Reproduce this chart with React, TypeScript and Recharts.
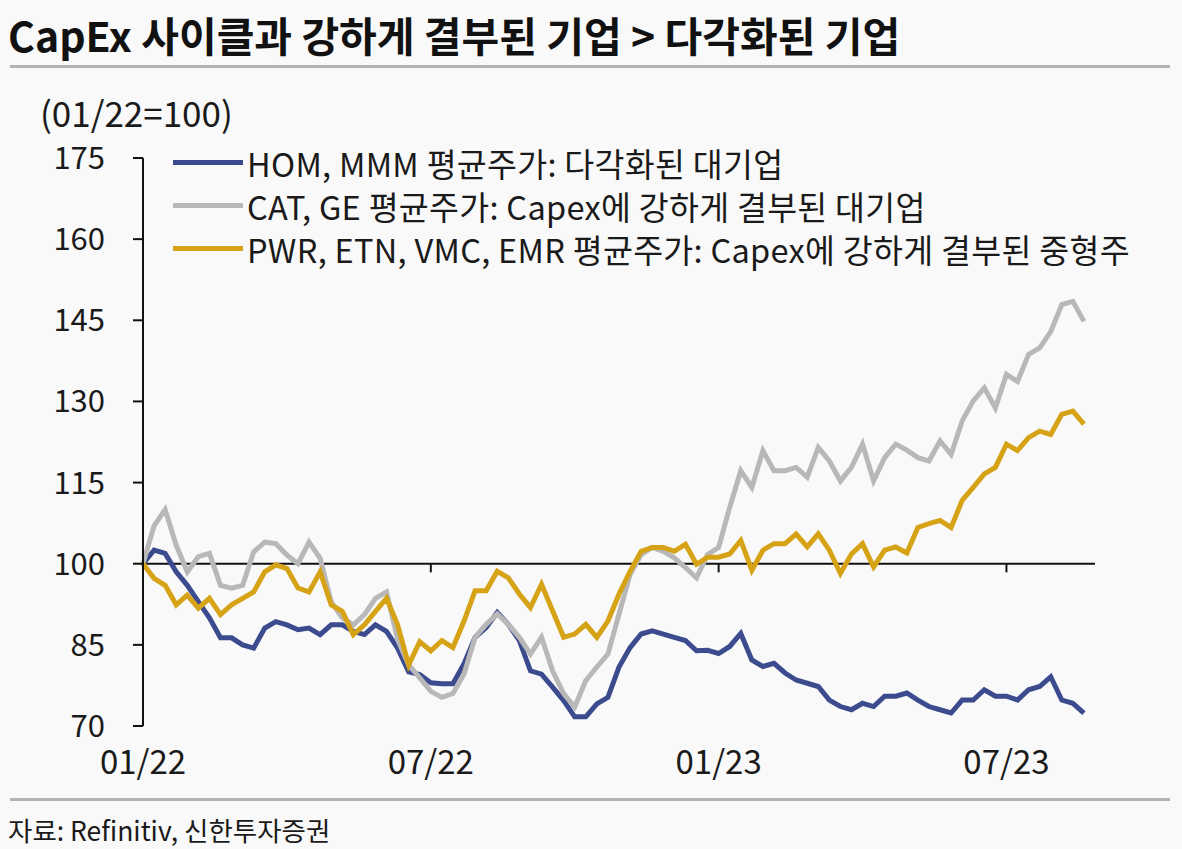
import React from 'react';
import { LineChart, Line, XAxis, YAxis, ReferenceLine } from 'recharts';

// weekly averages, 01/22 = 100
const hom = [
  100, 102.5, 101.9, 98.5, 96, 93, 90, 86.3, 86.3, 85,
  84.4, 88.1, 89.3, 88.7, 87.8, 88.1, 86.9, 88.7, 88.7, 87.5,
  86.9, 88.7, 87.5, 84.4, 80, 79.5, 78, 77.8, 77.8, 81.5,
  86.4, 88.2, 91, 88.8, 85.8, 80.2, 79.6, 77.2, 74.7, 71.7,
  71.7, 74.1, 75.3, 80.9, 84.5, 87, 87.6, 87, 86.4, 85.8,
  83.9, 84, 83.4, 84.7, 87.1, 82.2, 81, 81.6, 79.8, 78.5,
  77.9, 77.3, 74.8, 73.6, 73, 74.2, 73.6, 75.5, 75.5, 76.1,
  74.8, 73.6, 73, 72.4, 74.8, 74.8, 76.7, 75.5, 75.5, 74.8,
  76.7, 77.3, 79.1, 74.8, 74.2, 72.4,
];
const cat = [
  100, 107, 110, 103.4, 98.5, 101.3, 101.9, 96, 95.5, 96,
  102.2, 104, 103.7, 101.6, 100, 104, 101, 93, 90, 88.7,
  90.6, 93.6, 94.8, 86, 81.3, 78.9, 76.4, 75.3, 76, 79.6,
  86.4, 88.8, 90.7, 88.8, 86.4, 83.3, 86.4, 80.2, 76, 73.5,
  78.4, 80.9, 83.3, 90.7, 98, 101.7, 103, 102.3, 101.1, 99.3,
  97.4, 101.7, 103, 110.4, 117.2, 114.1, 120.9, 117.2, 117.2, 117.8,
  116, 121.5, 119, 115.3, 117.8, 122.1, 115.3, 119.6, 122.1, 121,
  119.6, 119, 122.7, 120.2, 126.4, 130.1, 132.5, 128.8, 135, 133.7,
  138.7, 139.9, 142.9, 147.9, 148.5, 144.8,
];
const pwr = [
  100, 97.3, 96, 92.4, 94.2, 91.8, 93.6, 90.6, 92.4, 93.6,
  94.8, 98.5, 99.8, 99.1, 95.5, 94.8, 98.5, 92.4, 91.2, 86.9,
  88.7, 91.2, 93.6, 88.7, 81.3, 85.6, 83.9, 85.8, 84.5, 89.4,
  95, 95, 98.6, 97.4, 94.4, 91.9, 96.2, 91.3, 86.4, 87,
  88.8, 86.4, 89.4, 94.4, 98.6, 102.3, 103, 103, 102.3, 103.6,
  99.9, 101.2, 101.2, 101.8, 104.3, 98.8, 102.5, 103.7, 103.7, 105.5,
  103.1, 105.5, 102.5, 98.2, 101.8, 103.7, 99.4, 102.5, 103.1, 102,
  106.7, 107.4, 108, 106.7, 111.7, 114.1, 116.6, 117.8, 122.1, 120.9,
  123.3, 124.5, 123.9, 127.6, 128.2, 125.8,
];

const xTicks = [0, 26, 52, 78];
const xLabels = ['01/22', '07/22', '01/23', '07/23'];
const yTicks = [70, 85, 100, 115, 130, 145, 160, 175];

const seriesNames = [
  'HOM, MMM 평균주가: 다각화된 대기업',
  'CAT, GE 평균주가: Capex에 강하게 결부된 대기업',
  'PWR, ETN, VMC, EMR 평균주가: Capex에 강하게 결부된 중형주',
];
const colors = ['#3b4b8d', '#b8b8b8', '#d6a216'];

const data = hom.map((v, i) => ({ w: i, hom: v, cat: cat[i], pwr: pwr[i] }));

const FONT = '"Noto Sans CJK KR", "Noto Sans", sans-serif';

const XTick = ({ x, y, payload }: any) => (
  <text x={x} y={y} dy={46} textAnchor="middle" fontSize={33} fill="#1a1a1a" fontFamily={FONT}>
    {xLabels[xTicks.indexOf(payload.value)]}
  </text>
);

// legend drawn outside the chart so it doesn't eat into the plot area
const LegendBox = () => (
  <div style={{ position: 'absolute', left: 173, top: 141, fontFamily: FONT }}>
    {seriesNames.map((name, i) => (
      <div key={name} style={{ display: 'flex', alignItems: 'center', height: 43 }}>
        <span style={{ width: 70, height: 5, background: colors[i], marginRight: 4 }} />
        <span style={{ fontSize: 32.5, lineHeight: '40px', letterSpacing: 0.3, color: '#1a1a1a', whiteSpace: 'nowrap' }}>
          {name}
        </span>
      </div>
    ))}
  </div>
);

export default function App() {
  return (
    <div
      style={{
        position: 'absolute', left: 0, top: 0, width: 1182, height: 849,
        background: '#f9f9f9', fontFamily: FONT, overflow: 'hidden',
      }}
    >
      <div style={{ position: 'absolute', left: 8, top: 4, fontSize: 41, fontWeight: 700, color: '#111', whiteSpace: 'nowrap' }}>
        CapEx 사이클과 강하게 결부된 기업 &gt; 다각화된 기업
      </div>
      <div style={{ position: 'absolute', left: 10, top: 65, width: 1160, height: 3, background: '#b3b3b3' }} />
      <div style={{ position: 'absolute', left: 40, top: 86, fontSize: 35, color: '#1a1a1a', whiteSpace: 'nowrap' }}>
        (01/22=100)
      </div>

      <div style={{ position: 'absolute', left: 0, top: 0 }}>
        <LineChart width={1182} height={849} data={data} margin={{ top: 158, right: 87, bottom: 73, left: 0 }}>
          <XAxis
            type="number"
            dataKey="w"
            domain={[0, 86]}
            ticks={xTicks}
            axisLine={false}
            tickLine={false}
            tickSize={0}
            height={50}
            tick={<XTick />}
          />
          <YAxis
            domain={[70, 175]}
            ticks={yTicks}
            width={143}
            axisLine={{ stroke: '#111', strokeWidth: 2 }}
            tickLine={{ stroke: '#111', strokeWidth: 2 }}
            tickSize={10}
            tickMargin={28}
            tick={{ fontSize: 31, fill: '#1a1a1a', fontFamily: FONT }}
          />
          <ReferenceLine y={100} stroke="#111" strokeWidth={2} />
          {xTicks.map((t) => (
            <ReferenceLine key={t} segment={[{ x: t, y: 100 }, { x: t, y: 98.4 }]} stroke="#111" strokeWidth={2} />
          ))}
          <Line type="linear" dataKey="hom" stroke={colors[0]} strokeWidth={5} dot={false} isAnimationActive={false} />
          <Line type="linear" dataKey="cat" stroke={colors[1]} strokeWidth={5} dot={false} isAnimationActive={false} />
          <Line type="linear" dataKey="pwr" stroke={colors[2]} strokeWidth={5} dot={false} isAnimationActive={false} />
        </LineChart>
      </div>
      <LegendBox />

      <div style={{ position: 'absolute', left: 10, top: 798, width: 1160, height: 3, background: '#b3b3b3' }} />
      <div style={{ position: 'absolute', left: 8, top: 810, fontSize: 26.5, color: '#1a1a1a', whiteSpace: 'nowrap' }}>
        자료: Refinitiv, 신한투자증권
      </div>
    </div>
  );
}
